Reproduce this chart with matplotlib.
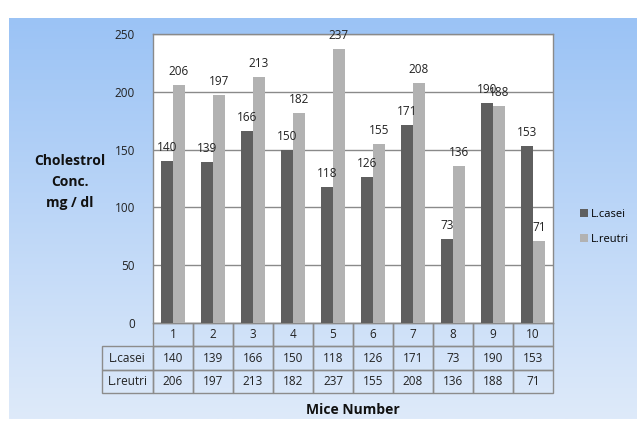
import matplotlib.pyplot as plt
import numpy as np

mice = ["1", "2", "3", "4", "5", "6", "7", "8", "9", "10"]
casei = [140, 139, 166, 150, 118, 126, 171, 73, 190, 153]
reutri = [206, 197, 213, 182, 237, 155, 208, 136, 188, 71]
series_names = ["L.casei", "L.reutri"]
yticks = [0, 50, 100, 150, 200, 250]

W, H = 637, 429
plt.rcParams['font.family'] = ['Open Sans', 'DejaVu Sans']

fig = plt.figure(figsize=(W / 100, H / 100), dpi=100)
fig.patch.set_facecolor('white')

# blue gradient panel behind everything
bg = fig.add_axes([9 / W, 1 - 419 / H, 1 - 9 / W, (419 - 18) / H], zorder=0)
top = np.array([155, 195, 245]) / 255
bot = np.array([222, 234, 250]) / 255
t = np.linspace(0, 1, 256)[:, None]
grad = (top * (1 - t) + bot * t)[:, None, :]
bg.imshow(grad, aspect='auto', extent=[0, 1, 0, 1])
bg.axis('off')

left, right, ytop, ybot = 153, 553, 34, 323
ax = fig.add_axes([left / W, 1 - ybot / H, (right - left) / W, (ybot - ytop) / H], zorder=1)
ax.set_facecolor('white')

x = np.arange(len(mice))
w = 0.29
b1 = ax.bar(x - w / 2, casei, w, color='#5f5f5f', label=series_names[0], zorder=3)
b2 = ax.bar(x + w / 2, reutri, w, color='#b2b2b2', label=series_names[1], zorder=3)
for bars in (b1, b2):
    ax.bar_label(bars, padding=5, fontsize=8.5, color='#222222')

ax.set_xlim(-0.5, len(mice) - 0.5)
ax.set_ylim(0, 250)
ax.set_yticks(yticks)
ax.yaxis.grid(True, color='#8a8a8a', linewidth=1, zorder=0)
ax.set_axisbelow(True)
ax.tick_params(axis='y', length=0, pad=13, labelsize=8.5, labelcolor='#222222')
ax.set_xticks([])
for s in ax.spines.values():
    s.set_color('#8a8a8a')
    s.set_linewidth(1)

# data table under the plot; first column holds the series names
rows_h = (393 - ybot) / (ybot - ytop)
lab_w = (left - 102) / (right - left)
cell_w = 1 / len(mice)
rows = [[series_names[0]] + [str(v) for v in casei],
        [series_names[1]] + [str(v) for v in reutri]]
tbl = ax.table(cellText=rows, colLabels=[""] + mice,
               colWidths=[lab_w] + [cell_w] * len(mice),
               cellLoc='center',
               bbox=[-lab_w, -rows_h, 1 + lab_w, rows_h])
tbl.auto_set_font_size(False)
for (r, c), cell in tbl.get_celld().items():
    cell.set_facecolor('none')
    cell.set_edgecolor('#8c8c8c')
    cell.set_linewidth(1)
    cell.get_text().set_fontsize(8.5)
    cell.get_text().set_color('#222222')
    if c == 0:
        cell.PAD = 0.03
        cell._loc = 'left'
    if r == 0 and c == 0:
        cell.set_edgecolor('none')

fig.text(70 / W, 1 - 182 / H, "Cholestrol\nConc.\nmg / dl", ha='center', va='center',
         fontsize=10, fontweight='bold', linespacing=1.6, color='#111111')
fig.text(353 / W, 1 - 410 / H, "Mice Number", ha='center', va='center',
         fontsize=10, fontweight='bold', color='#111111')

fig.legend(handles=[b1, b2], loc='center left', bbox_to_anchor=(570 / W, 1 - 227 / H),
           frameon=False, fontsize=8, handlelength=0.7, handleheight=0.7,
           handletextpad=0.3, labelspacing=1.3)

fig.savefig("out.png", dpi=100)
